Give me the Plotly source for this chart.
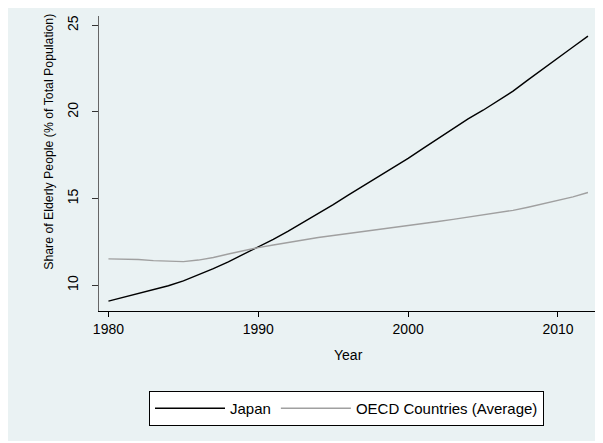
import plotly.graph_objects as go

years = list(range(1980, 2013))
japan = [9.08, 9.30, 9.50, 9.72, 9.97, 10.25, 10.58, 10.95, 11.35, 11.78,
         12.20, 12.65, 13.12, 13.62, 14.12, 14.65, 15.20, 15.72, 16.25, 16.80,
         17.32, 17.90, 18.48, 19.05, 19.60, 20.10, 20.65, 21.20, 21.85, 22.50,
         23.15, 23.75, 24.38]
oecd = [11.52, 11.52, 11.48, 11.42, 11.37, 11.36, 11.45, 11.60, 11.80, 12.00,
        12.17, 12.32, 12.47, 12.62, 12.75, 12.87, 12.98, 13.10, 13.22, 13.34,
        13.45, 13.57, 13.68, 13.80, 13.92, 14.04, 14.17, 14.32, 14.50, 14.70,
        14.90, 15.10, 15.35]
series_names = ["Japan", "OECD Countries (Average)"]
x_ticks = [1980, 1990, 2000, 2010]
y_ticks = [10, 15, 20, 25]

W, H = 603, 443
OFF = 8  # page body margin offsets the figure on screen
# target plot area in screen pixels
SL, SR, ST, SB = 99, 598, 16, 311
L, R, T, B = SL - OFF, SR - OFF, ST - OFF, SB - OFF
pw, ph = R - L, B - T

def px_x(sx):
    return (sx - OFF - L) / pw

def px_y(sy):
    return (B - (sy - OFF)) / ph

FONT = "Liberation Sans, Arial, Helvetica, sans-serif"
BG = "#EAF2F3"

fig = go.Figure()
fig.add_trace(go.Scatter(x=years, y=japan, mode="lines", name=series_names[0],
                         line=dict(color="#000000", width=1.4)))
fig.add_trace(go.Scatter(x=years, y=oecd, mode="lines", name=series_names[1],
                         line=dict(color="#A0A0A0", width=1.4)))

fig.update_layout(
    template="none",
    width=W, height=H,
    margin=dict(l=L, r=W - R, t=T, b=H - B, pad=0, autoexpand=False),
    paper_bgcolor="#FFFFFF",
    plot_bgcolor="#FFFFFF",
    font=dict(family=FONT, size=14, color="#000000"),
    showlegend=True,
    legend=dict(orientation="h", x=px_x(346.5), xanchor="center",
                y=px_y(391), yanchor="top",
                bgcolor="#FFFFFF", bordercolor="#000000", borderwidth=1,
                font=dict(size=15), itemwidth=70, traceorder="normal"),
    shapes=[dict(type="rect", xref="paper", yref="paper",
                 x0=px_x(8), x1=px_x(600), y0=px_y(441), y1=px_y(0),
                 fillcolor=BG, line=dict(width=0), layer="below")],
    annotations=[
        dict(text="Year", xref="paper", yref="paper", x=0.5, y=px_y(355),
             xanchor="center", yanchor="middle", showarrow=False,
             font=dict(size=14)),
        dict(text="Share of Elderly People (% of Total Population)",
             xref="paper", yref="paper", x=px_x(48.8), y=px_y(142),
             xanchor="center", yanchor="middle", showarrow=False,
             textangle=-90, font=dict(size=12.3)),
    ],
)

fig.update_xaxes(range=[1979.37, 2012.67], tickvals=x_ticks, showgrid=False,
                 showline=True, linecolor="#000000", linewidth=1,
                 ticks="outside", ticklen=5, tickcolor="#000000",
                 zeroline=False, tickfont=dict(size=14), automargin=False)
fig.update_yaxes(range=[8.51, 25.54], tickvals=y_ticks, showgrid=True,
                 gridcolor=BG, gridwidth=1,
                 showline=True, linecolor="#666666", linewidth=1,
                 ticks="outside", ticklen=6, tickcolor="#333333",
                 zeroline=False, tickangle=-90, tickfont=dict(size=14),
                 ticklabelstandoff=8, automargin=False)

fig.write_html("out.html")
